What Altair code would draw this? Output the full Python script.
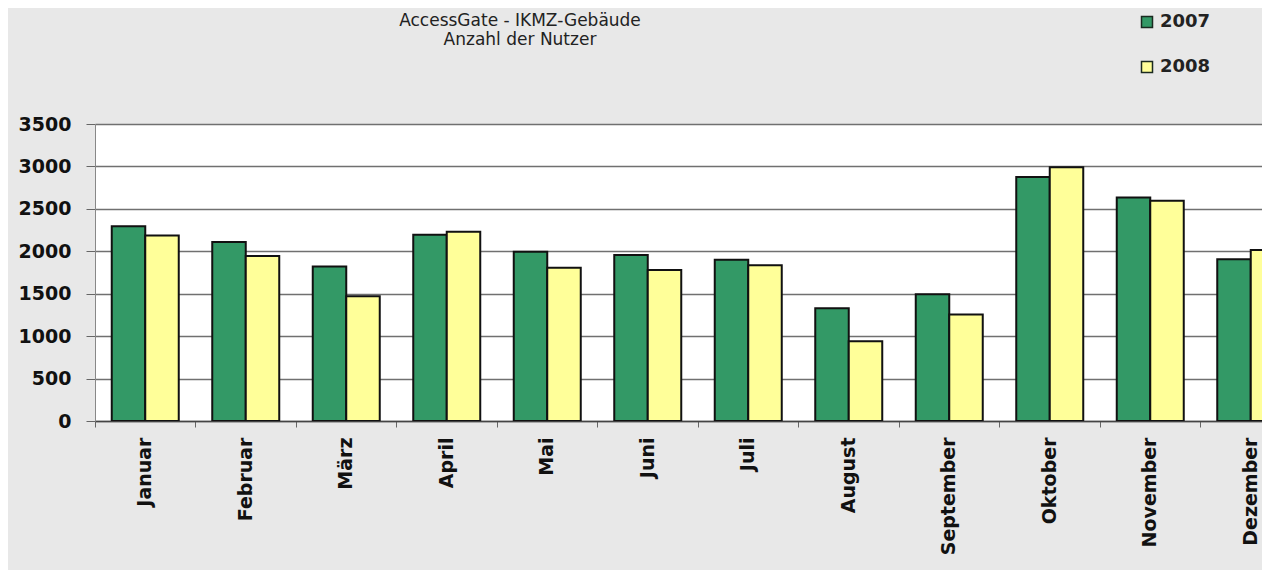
import altair as alt
import pandas as pd

months = ["Januar", "Februar", "März", "April", "Mai", "Juni", "Juli",
          "August", "September", "Oktober", "November", "Dezember"]
years = ["2007", "2008"]
v2007 = [2295, 2110, 1820, 2195, 1995, 1955, 1900, 1330, 1495, 2875, 2635, 1905]
v2008 = [2185, 1945, 1470, 2230, 1805, 1780, 1835, 940, 1255, 2990, 2595, 2015]
y_ticks = [0, 500, 1000, 1500, 2000, 2500, 3000, 3500]
title_lines = ["AccessGate - IKMZ-Gebäude", "Anzahl der Nutzer"]

rows = []
for i, m in enumerate(months):
    rows.append({"Monat": m, "Jahr": years[0], "Nutzer": v2007[i]})
    rows.append({"Monat": m, "Jahr": years[1], "Nutzer": v2008[i]})
df = pd.DataFrame(rows)

PLOT_W = 1167
PLOT_H = 297
STEP = 100.5

bars = alt.Chart(df).mark_bar(clip=True, stroke="#111111", strokeWidth=2).encode(
    x=alt.X("Monat:N", sort=months,
            scale=alt.Scale(range=[0, STEP * len(months)], paddingInner=0, paddingOuter=0),
            axis=alt.Axis(title=None, labelAngle=270, bandPosition=0,
                          labelFont="DejaVu Sans", labelFontWeight="bold", labelFontSize=19,
                          labelColor="#111111", tickSize=6, tickColor="#666666", tickWidth=1,
                          labelPadding=10, domainColor="#444444", domainWidth=1.5,
                          grid=False)),
    xOffset=alt.XOffset("Jahr:N", sort=years,
                        scale=alt.Scale(paddingInner=0, paddingOuter=0.5)),
    y=alt.Y("Nutzer:Q", scale=alt.Scale(domain=[0, 3500], nice=False),
            axis=alt.Axis(title=None, values=y_ticks, format="d", labelFont="DejaVu Sans",
                          labelFontWeight="bold", labelFontSize=19, labelColor="#111111",
                          tickSize=9, tickColor="#666666", labelPadding=15,
                          domainColor="#888888", domainWidth=1,
                          grid=True, gridColor="#707070", gridWidth=1.5)),
    color=alt.Color("Jahr:N", scale=alt.Scale(domain=years, range=["#339966", "#ffff99"]),
                    legend=alt.Legend(title=None, orient="none", legendX=1043, legendY=-111,
                                      direction="vertical", rowPadding=27,
                                      symbolType="square", symbolSize=121,
                                      symbolStrokeColor="#1a2a20", symbolStrokeWidth=1.5,
                                      symbolOpacity=1,
                                      labelFont="DejaVu Sans", labelFontWeight="bold",
                                      labelFontSize=18, labelColor="#222222",
                                      labelOffset=4, padding=0)),
)

tdf = pd.DataFrame({"t": [0]})
t1 = alt.Chart(tdf).mark_text(text=title_lines[0], font="DejaVu Sans", fontSize=17,
                              color="#222222", align="center", baseline="middle").encode(
    x=alt.value(425), y=alt.value(-103))
t2 = alt.Chart(tdf).mark_text(text=title_lines[1], font="DejaVu Sans", fontSize=17,
                              color="#222222", align="center", baseline="middle").encode(
    x=alt.value(425), y=alt.value(-84))

chart = alt.layer(bars, t1, t2).properties(
    width=PLOT_W, height=PLOT_H,
    autosize=alt.AutoSizeParams(type="none"),
    padding={"left": 87, "top": 116, "right": 0, "bottom": 149},
    background="#e8e8e8",
).configure_view(fill="white", stroke=None)

chart.save("out.html", embed_options={"renderer": "svg", "actions": False})
